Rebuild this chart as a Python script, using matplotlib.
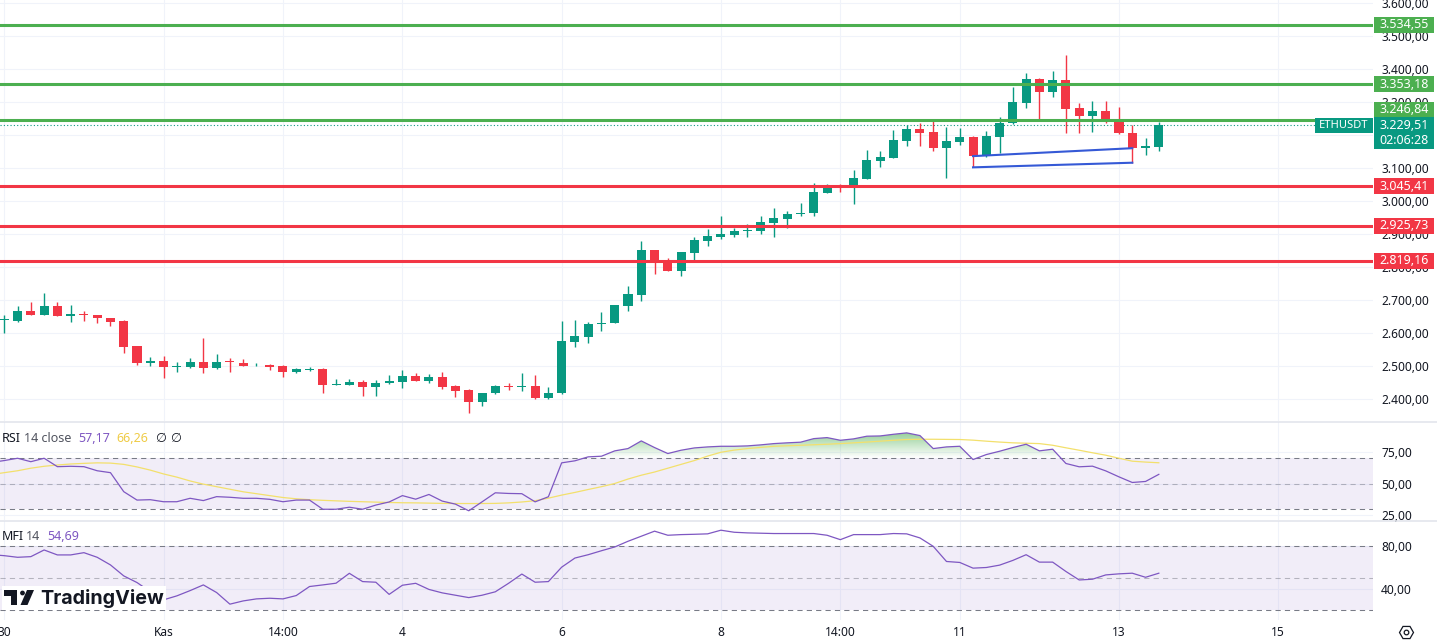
import numpy as np
import matplotlib.pyplot as plt
from matplotlib.patches import Rectangle, Polygon, Circle, RegularPolygon
from matplotlib.path import Path
from matplotlib.colors import to_rgb
from matplotlib.transforms import blended_transform_factory

plt.rcParams['font.family'] = ['Noto Sans', 'DejaVu Sans']

# ETHUSDT 4h candles
opens = [2639, 2637, 2667, 2656, 2682, 2650, 2658, 2655, 2645, 2636,
         2561, 2510, 2516, 2498, 2498, 2512, 2494, 2514, 2509, 2502,
         2504, 2500, 2483, 2489, 2491, 2442, 2443, 2451, 2437, 2447,
         2453, 2469, 2456, 2466, 2439, 2427, 2392, 2417, 2439, 2437,
         2439, 2404, 2417, 2574, 2589, 2626, 2629, 2683, 2715, 2851,
         2817, 2789, 2843, 2880, 2892, 2898, 2910, 2910, 2934, 2945,
         2961, 2963, 3025, 3048, 3038, 3067, 3122, 3131, 3183, 3218,
         3209, 3162, 3180, 3193, 3136, 3195, 3235, 3298, 3370, 3331,
         3367, 3281, 3259, 3273, 3243, 3205, 3160, 3165]
highs = [2654, 2682, 2694, 2720, 2694, 2685, 2667, 2655, 2645, 2639,
         2561, 2526, 2530, 2513, 2524, 2585, 2536, 2524, 2520, 2508,
         2506, 2502, 2493, 2496, 2494, 2461, 2461, 2457, 2457, 2473,
         2488, 2478, 2475, 2481, 2442, 2429, 2419, 2442, 2447, 2478,
         2473, 2435, 2636, 2639, 2632, 2664, 2685, 2742, 2879, 2851,
         2826, 2845, 2892, 2914, 2955, 2917, 2929, 2955, 2978, 2971,
         2993, 3056, 3053, 3051, 3094, 3155, 3152, 3215, 3230, 3237,
         3245, 3225, 3220, 3197, 3212, 3254, 3346, 3387, 3374, 3394,
         3443, 3298, 3303, 3303, 3284, 3230, 3190, 3240]
lows = [2599, 2634, 2656, 2654, 2650, 2634, 2637, 2631, 2622, 2540,
        2504, 2501, 2465, 2483, 2493, 2480, 2492, 2483, 2500, 2500,
        2488, 2468, 2478, 2484, 2419, 2441, 2441, 2410, 2410, 2446,
        2434, 2456, 2447, 2429, 2405, 2357, 2380, 2415, 2427, 2425,
        2399, 2399, 2415, 2559, 2571, 2607, 2629, 2668, 2698, 2779,
        2789, 2773, 2821, 2864, 2886, 2892, 2892, 2900, 2890, 2917,
        2954, 2954, 3023, 3028, 2991, 3066, 3104, 3129, 3168, 3168,
        3150, 3069, 3170, 3102, 3134, 3144, 3233, 3281, 3248, 3316,
        3207, 3207, 3210, 3237, 3203, 3116, 3139, 3152]
closes = [2641, 2667, 2656, 2682, 2650, 2658, 2656, 2644, 2634, 2559,
          2510, 2516, 2498, 2500, 2512, 2494, 2512, 2512, 2500, 2504,
          2498, 2483, 2491, 2491, 2443, 2444, 2451, 2437, 2448, 2454,
          2469, 2456, 2466, 2437, 2425, 2392, 2419, 2439, 2435, 2439,
          2404, 2419, 2576, 2591, 2627, 2630, 2685, 2718, 2851, 2818,
          2789, 2845, 2882, 2894, 2900, 2908, 2912, 2935, 2949, 2961,
          2965, 3027, 3048, 3044, 3069, 3124, 3133, 3185, 3218, 3207,
          3162, 3182, 3193, 3136, 3197, 3235, 3300, 3370, 3331, 3367,
          3279, 3259, 3273, 3240, 3205, 3160, 3167, 3229.51]

# indicators start one bar before the first visible candle
rsi = [66.5, 68.0, 69.8, 67.1, 69.8, 63.2, 63.5, 63.2, 60.0, 58.5,
       43.6, 37.0, 37.3, 35.7, 35.7, 38.4, 36.6, 39.7, 39.2, 38.4,
       38.4, 37.6, 35.7, 37.0, 37.0, 29.8, 29.8, 31.4, 29.8, 33.1,
       35.5, 40.5, 37.7, 41.4, 36.2, 33.8, 28.6, 35.6, 42.7, 42.2,
       42.0, 35.6, 39.6, 66.2, 67.8, 70.9, 71.4, 75.6, 77.4, 83.4,
       78.2, 73.5, 76.1, 77.9, 78.7, 79.2, 79.2, 79.5, 80.3, 81.3,
       81.9, 82.4, 85.2, 86.0, 83.9, 85.0, 87.1, 87.3, 88.6, 89.7,
       87.6, 77.4, 78.7, 79.2, 68.8, 72.7, 75.3, 78.2, 80.8, 75.6,
       76.9, 65.7, 63.1, 63.6, 59.9, 55.2, 50.8, 51.6, 57.17]
rsi_ma = [57.0, 58.5, 60.0, 62.0, 63.5, 64.5, 65.3, 65.8, 66.2, 66.0,
          65.0, 63.0, 60.5, 57.5, 55.0, 52.0, 49.5, 47.5, 45.5, 43.5,
          42.0, 40.5, 39.0, 38.0, 37.3, 36.8, 36.4, 36.0, 35.7, 35.4,
          35.1, 34.9, 34.8, 34.6, 34.4, 34.3, 34.3, 34.3, 34.4, 34.8,
          35.5, 36.5, 38.5, 40.9, 43.0, 45.3, 47.5, 50.0, 53.5, 56.5,
          59.0, 62.0, 65.0, 68.0, 71.5, 74.5, 76.2, 77.4, 78.3, 79.2,
          79.6, 80.0, 80.4, 80.8, 81.3, 81.9, 82.5, 83.2, 83.9, 84.5,
          84.7, 84.7, 84.6, 84.5, 84.0, 83.2, 82.5, 81.9, 81.6, 81.3,
          80.0, 78.0, 76.1, 74.1, 72.2, 69.8, 67.5, 66.8, 66.26]
mfi = [72.0, 71.0, 69.5, 70.1, 76.3, 71.7, 71.7, 73.8, 69.5, 62.4,
       52.2, 46.0, 37.6, 29.9, 33.6, 38.5, 43.8, 36.7, 25.9, 28.9,
       30.8, 31.4, 30.8, 33.9, 42.3, 43.8, 45.4, 54.6, 46.9, 46.3,
       35.0, 43.5, 45.3, 39.6, 36.4, 34.2, 32.0, 34.2, 37.4, 45.3,
       53.9, 46.3, 46.9, 60.3, 68.8, 71.9, 75.6, 79.1, 84.4, 89.1,
       93.8, 90.0, 90.6, 90.9, 91.3, 94.7, 92.8, 92.2, 91.9, 91.6,
       91.6, 91.6, 91.6, 90.0, 85.9, 90.6, 90.6, 90.6, 91.6, 91.3,
       87.5, 79.7, 65.6, 64.7, 59.4, 60.0, 62.2, 66.6, 71.9, 65.0,
       65.0, 56.3, 48.4, 49.1, 53.1, 54.1, 54.7, 50.9, 54.69]

green_levels = [3534.55, 3353.18, 3246.84]
red_levels = [3045.41, 2925.73, 2819.16]
last_price = 3229.51
countdown = '02:06:28'
symbol = 'ETHUSDT'

trend_x = [73, 85]
trend_upper = [3136, 3160]
trend_lower = [3102, 3116]

time_ticks = [0, 12, 21, 30, 42, 54, 63, 72, 84, 96]
time_labels = ['30', 'Kas', '14:00', '4', '6', '8', '14:00', '11', '13', '15']
price_ticks = list(range(2400, 3700, 100))

G = '#089981'
R = '#F23645'
LG = '#4CAF50'
PURPLE = '#7E57C2'
YEL = '#F3E06C'
TXT = '#131722'
GRID = '#F0F3FA'


def tr(v):
    s = f'{v:,.2f}'
    return s.replace(',', '#').replace('.', ',').replace('#', '.')


W, H = 1437, 641
PR = 1373  # right edge of the plotting area, px


def rect(top, bot):
    return [0, 1 - bot / H, PR / W, (bot - top) / H]


fig = plt.figure(figsize=(W / 100, H / 100), dpi=100)
ax = fig.add_axes(rect(0, 421))
ax_r = fig.add_axes(rect(422, 520), sharex=ax)
ax_m = fig.add_axes(rect(521, 620), sharex=ax)

for a in (ax, ax_r, ax_m):
    for s in a.spines.values():
        s.set_visible(False)
    a.yaxis.tick_right()
    a.tick_params(length=0, colors=TXT, labelsize=8.6, pad=5.8)
    a.grid(color=GRID, lw=0.8)
    a.set_axisbelow(True)
    a.set_xticks(time_ticks)
ax.tick_params(labelbottom=False)
ax_r.tick_params(labelbottom=False)
ax_m.set_xticklabels(time_labels)
ax_m.tick_params(axis='x', pad=4.3)
for lab in ax_m.get_xticklabels():
    if lab.get_text() == 'Kas':
        lab.set_fontweight('bold')

# ---- price pane
o = np.array(opens, float)
h = np.array(highs, float)
l = np.array(lows, float)
c = np.array(closes, float)
xs = np.arange(len(o))
col = np.where(c >= o, G, R)

ax.axhline(last_price, color=G, lw=0.8, ls=(0, (1, 2)), zorder=1.5)
ax.vlines(xs, l, h, colors=col, lw=1.0, zorder=3)
ax.bar(xs, np.maximum(np.abs(c - o), 2.5), bottom=np.minimum(o, c), width=0.68,
       color=col, lw=0, zorder=3)
for v in green_levels:
    ax.axhline(v, color=LG, lw=2.2, zorder=4)
for v in red_levels:
    ax.axhline(v, color=R, lw=2.2, zorder=4)
ax.plot(trend_x, trend_upper, color='#3559D6', lw=1.5, zorder=5)
ax.plot(trend_x, trend_lower, color='#3559D6', lw=1.5, zorder=5)

ax.set_xlim(-0.324, 103.14)
ax.set_ylim(2333.3, 3609.1)
ax.set_yticks(price_ticks)
ax.set_yticklabels([tr(v) for v in price_ticks])

bt = blended_transform_factory(ax.transAxes, ax.transData)
bx0, bw = 1374 / PR, 60 / PR
px = 0.33  # px per price unit
for v, colr in [(v, LG) for v in green_levels] + [(v, R) for v in red_levels]:
    yc = v + (10 / px if v == 3246.84 else 0)
    ax.add_patch(Rectangle((bx0, yc - 8 / px), bw, 16 / px, transform=bt,
                           color=colr, clip_on=False, zorder=6, lw=0))
    ax.text(bx0 + bw / 2, yc, tr(v), transform=bt, ha='center', va='center',
            color='white', fontsize=9, zorder=7, clip_on=False)
ax.add_patch(Rectangle((bx0, last_price - 24 / px), bw, 32 / px, transform=bt,
                       color=G, clip_on=False, zorder=6, lw=0))
ax.text(bx0 + bw / 2, last_price, tr(last_price), transform=bt, ha='center',
        va='center', color='white', fontsize=9, zorder=7, clip_on=False)
ax.text(bx0 + bw / 2, last_price - 15 / px, countdown, transform=bt, ha='center',
        va='center', color='white', fontsize=9, zorder=7, clip_on=False)
ax.add_patch(Rectangle((1315 / PR, last_price - 7.8 / px), 58 / PR, 15 / px,
                       transform=bt, color=G, clip_on=False, zorder=6, lw=0))
ax.text(1344 / PR, last_price, symbol, transform=bt, ha='center', va='center',
        color='white', fontsize=8, zorder=7, clip_on=False)


# ---- gradient fill helper
def grad_fill(a, x, y, level, end, color):
    y = np.asarray(y)
    above = end > level
    mask = y > level if above else y < level
    coll = a.fill_between(x, y, level, where=mask, interpolate=True,
                          facecolor='none', edgecolor='none')
    paths = coll.get_paths()
    if not paths:
        return
    path = Path.make_compound_path(*paths)
    img = np.zeros((120, 1, 4))
    img[..., :3] = to_rgb(color)
    alpha = np.linspace(1, 0, 120) if above else np.linspace(0, 1, 120)
    img[:, 0, 3] = alpha * 0.9
    lo, hi = (level, end) if above else (end, level)
    im = a.imshow(img, extent=[x[0], x[-1], lo, hi], aspect='auto',
                  origin='upper', zorder=1.6, interpolation='bilinear')
    im.set_clip_path(path, transform=a.transData)


xi = np.arange(-1, len(o))

# ---- RSI pane
ax_r.axhspan(30, 70, color=PURPLE, alpha=0.1, lw=0)
ax_r.axhline(70, color='#787B86', lw=0.75, ls=(0, (5, 4)))
ax_r.axhline(50, color='#787B86', lw=0.75, ls=(0, (5, 4)), alpha=0.5)
ax_r.axhline(30, color='#787B86', lw=0.75, ls=(0, (5, 4)))
grad_fill(ax_r, xi, rsi, 70, 100, '#4CAF50')
grad_fill(ax_r, xi, rsi, 30, 0, '#F23645')
ax_r.plot(xi, rsi_ma, color=YEL, lw=0.9, zorder=3)
ax_r.plot(xi, rsi, color=PURPLE, lw=0.9, zorder=4)
ax_r.set_xlim(-0.324, 103.14)
ax_r.set_ylim(21.37, 98.24)
ax_r.set_yticks([25, 50, 75])
ax_r.set_yticklabels([tr(v) for v in [25, 50, 75]])

# ---- MFI pane
ax_m.axhspan(20, 80, color=PURPLE, alpha=0.1, lw=0)
ax_m.axhline(80, color='#787B86', lw=0.75, ls=(0, (5, 4)))
ax_m.axhline(50, color='#787B86', lw=0.75, ls=(0, (5, 4)), alpha=0.5)
ax_m.axhline(20, color='#787B86', lw=0.75, ls=(0, (5, 4)))
ax_m.plot(xi, mfi, color=PURPLE, lw=0.9, zorder=4)
ax_m.set_xlim(-0.324, 103.14)
ax_m.set_ylim(11.16, 103.26)
ax_m.set_yticks([40, 80])
ax_m.set_yticklabels([tr(v) for v in [40, 80]])


# ---- legends
def ftxt(x, y, s, **kw):
    fig.text(x / W, 1 - y / H, s, ha='left', va='center', **kw)


ftxt(2, 439, 'RSI', color=TXT, fontsize=9)
ftxt(24, 439, '14 close', color='#50535E', fontsize=9)
ftxt(78, 439, tr(rsi[-1]), color=PURPLE, fontsize=9)
ftxt(116, 439, tr(rsi_ma[-1]), color='#EFCB45', fontsize=9)
ftxt(155, 439, '\u2205', color=TXT, fontsize=9)
ftxt(170, 439, '\u2205', color=TXT, fontsize=9)
ftxt(2, 537, 'MFI', color=TXT, fontsize=9)
ftxt(26, 537, '14', color='#50535E', fontsize=9)
ftxt(47, 537, tr(mfi[-1]), color=PURPLE, fontsize=9)

# ---- overlay: separators, logo, settings icon
ov = fig.add_axes([0, 0, 1, 1])
ov.set_xlim(0, W)
ov.set_ylim(H, 0)
ov.axis('off')
ov.set_zorder(10)
for yy in (421.5, 520.5):
    ov.plot([0, W], [yy, yy], color='#E0E3EB', lw=1.1)

ov.add_patch(Rectangle((2, 586), 164, 24, color='white', lw=0))
ov.add_patch(Polygon([(4, 590), (17, 590), (17, 605), (11, 605), (11, 596), (4, 596)],
                     closed=True, color='#131722', lw=0))
ov.add_patch(Circle((22.5, 593), 2.4, color='#131722', lw=0))
ov.add_patch(Polygon([(27, 590), (34, 590), (27.5, 605), (20.5, 605)],
                     closed=True, color='#131722', lw=0))
ov.text(40, 598.5, 'TradingView', fontsize=14.2, fontweight='bold', color='#131722',
        ha='left', va='center', family=['Inter', 'DejaVu Sans'])

ov.add_patch(RegularPolygon((1406.5, 632.5), 6, radius=7, orientation=np.pi / 6,
                            fill=False, edgecolor=TXT, lw=0.9))
ov.add_patch(Circle((1406.5, 632.5), 2.3, fill=False, edgecolor=TXT, lw=0.9))

fig.savefig('out.png', dpi=100)
